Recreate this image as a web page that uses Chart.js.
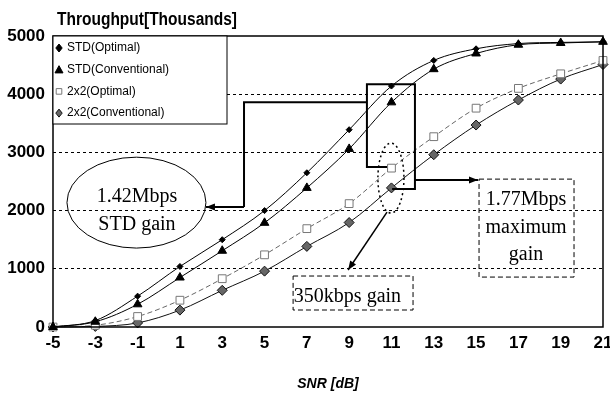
<!DOCTYPE html>
<html>
<head>
<meta charset="utf-8">
<script src="https://cdn.jsdelivr.net/npm/chart.js@4.4.1/dist/chart.umd.min.js"></script>
<style>
    html, body { margin: 0; padding: 0; background: #fff; }
</style>
</head>
<body>
<canvas id="throughputChart" width="610" height="397"></canvas>
<script>
// SNR values (dB) on the x axis
const snrLabels = ['-5', '-3', '-1', '1', '3', '5', '7', '9', '11', '13', '15', '17', '19', '21'];

// Throughput in thousands
const stdOptimal      = [0, 110, 530, 1040, 1500, 2000, 2650, 3390, 4140, 4580, 4780, 4870, 4890, 4900];
const stdConventional = [0, 90, 390, 850, 1310, 1790, 2390, 3060, 3860, 4430, 4700, 4850, 4880, 4900];
const mimoOptimal     = [0, 30, 180, 460, 830, 1240, 1690, 2120, 2730, 3270, 3760, 4100, 4350, 4580];
const mimoConventional = [0, 10, 70, 290, 630, 960, 1385, 1795, 2390, 2960, 3470, 3900, 4260, 4510];

const yTickValues = [0, 1000, 2000, 3000, 4000, 5000];

const axisFont = { family: '"Liberation Sans", Arial, sans-serif', size: 17, weight: 'bold' };
const noteFont = '20px "Liberation Serif", "Times New Roman", serif';

// turns an SNR in dB into a pixel on the category axis
function snrPixel(scale, snr) {
    return scale.getPixelForValue((snr + 5) / 2);
}

function arrow(ctx, x1, y1, x2, y2) {
    ctx.beginPath();
    ctx.moveTo(x1, y1);
    ctx.lineTo(x2, y2);
    ctx.stroke();
    const a = Math.atan2(y2 - y1, x2 - x1);
    ctx.beginPath();
    ctx.moveTo(x2, y2);
    ctx.lineTo(x2 - 9 * Math.cos(a) + 3.5 * Math.sin(a), y2 - 9 * Math.sin(a) - 3.5 * Math.cos(a));
    ctx.lineTo(x2 - 9 * Math.cos(a) - 3.5 * Math.sin(a), y2 - 9 * Math.sin(a) + 3.5 * Math.cos(a));
    ctx.closePath();
    ctx.fill();
}

function marker(ctx, ds, x, y, r) {
    ctx.save();
    ctx.fillStyle = ds.pointBackgroundColor;
    ctx.strokeStyle = ds.pointBorderColor;
    ctx.lineWidth = 1;
    ctx.beginPath();
    if (ds.pointStyle === 'triangle') {
        ctx.moveTo(x, y - r);
        ctx.lineTo(x + r, y + r * 0.8);
        ctx.lineTo(x - r, y + r * 0.8);
    } else if (ds.pointStyle === 'rect') {
        ctx.rect(x - r * 0.7, y - r * 0.7, r * 1.4, r * 1.4);
    } else {
        ctx.moveTo(x, y - r);
        ctx.lineTo(x + r * 0.8, y);
        ctx.lineTo(x, y + r);
        ctx.lineTo(x - r * 0.8, y);
    }
    ctx.closePath();
    ctx.fill();
    ctx.stroke();
    ctx.restore();
}

const decorations = {
    id: 'decorations',
    afterDraw(chart) {
        const ctx = chart.ctx;
        const area = chart.chartArea;
        const xs = chart.scales.x, ys = chart.scales.y;
        const px = snr => snrPixel(xs, snr);
        const py = v => ys.getPixelForValue(v);

        ctx.save();
        // plot frame
        ctx.strokeStyle = '#000';
        ctx.lineWidth = 1.5;
        ctx.strokeRect(area.left, area.top, area.right - area.left, area.bottom - area.top);

        // axis title on top
        ctx.fillStyle = '#000';
        ctx.font = 'bold 18px "Liberation Sans", Arial, sans-serif';
        ctx.textBaseline = 'alphabetic';
        ctx.textAlign = 'left';
        ctx.fillText('Throughput[Thousands]', 57, 25, 180);

        // legend box
        const lx = area.left, ly = area.top, lw = 174, lh = 88;
        ctx.fillStyle = '#fff';
        ctx.fillRect(lx, ly, lw, lh);
        ctx.lineWidth = 1;
        ctx.strokeRect(lx, ly, lw, lh);
        ctx.font = '12px "Liberation Sans", Arial, sans-serif';
        ctx.textBaseline = 'middle';
        chart.data.datasets.forEach((ds, i) => {
            const rowY = ly + 12 + i * 21.7;
            marker(ctx, ds, lx + 6, rowY, 4);
            ctx.fillStyle = '#000';
            ctx.fillText(ds.label, lx + 14, rowY);
        });

        // annotations, placed in data units (snr, thousands)
        ctx.strokeStyle = '#000';
        ctx.fillStyle = '#000';
        ctx.lineWidth = 1;
        ctx.font = noteFont;
        ctx.textAlign = 'center';
        ctx.textBaseline = 'alphabetic';

        // STD gain ellipse
        ctx.beginPath();
        ctx.ellipse((px(-4.34) + px(2.23)) / 2, (py(2918) + py(1356)) / 2,
            (px(2.23) - px(-4.34)) / 2, (py(1356) - py(2918)) / 2, 0, 0, Math.PI * 2);
        ctx.stroke();
        ctx.fillText('1.42Mbps', px(-1.03), py(2146));
        ctx.fillText('STD gain', px(-1.03), py(1665));

        // bracket from the box to the ellipse
        ctx.lineWidth = 2;
        ctx.beginPath();
        ctx.moveTo(px(9.84), py(3863));
        ctx.lineTo(px(4.03), py(3863));
        ctx.lineTo(px(4.03), py(2060));
        ctx.stroke();
        arrow(ctx, px(4.03), py(2060), px(2.23), py(2060));

        // solid box around the gap at 11 dB
        ctx.beginPath();
        ctx.moveTo(px(10.79), py(2747));
        ctx.lineTo(px(9.84), py(2747));
        ctx.lineTo(px(9.84), py(4172));
        ctx.lineTo(px(12.11), py(4172));
        ctx.lineTo(px(12.11), py(2369));
        ctx.lineTo(px(11.03), py(2369));
        ctx.stroke();
        arrow(ctx, px(12.11), py(2524), px(15.09), py(2524));

        // max gain dashed box
        ctx.lineWidth = 1;
        ctx.setLineDash([5, 3]);
        ctx.strokeRect(px(15.14), py(2541), px(19.63) - px(15.14), py(858) - py(2541));
        ctx.strokeRect(px(6.35), py(876), px(12.02) - px(6.35), py(292) - py(876));
        ctx.setLineDash([]);
        ctx.fillText('1.77Mbps', px(17.36), py(2094));
        ctx.fillText('maximum', px(17.36), py(1614));
        ctx.fillText('gain', px(17.36), py(1150));

        // dotted ellipse around the 2x2 points
        ctx.setLineDash([2, 3]);
        ctx.lineWidth = 1.5;
        ctx.beginPath();
        ctx.ellipse((px(10.36) + px(11.59)) / 2, (py(3159) + py(1957)) / 2,
            (px(11.59) - px(10.36)) / 2, (py(1957) - py(3159)) / 2, 0, 0, Math.PI * 2);
        ctx.stroke();
        ctx.setLineDash([]);
        ctx.lineWidth = 1.5;
        arrow(ctx, px(10.79), py(1974), px(8.95), py(979));
        ctx.fillText('350kbps gain', px(8.92), py(429));

        ctx.restore();
    }
};

const ctx = document.getElementById('throughputChart').getContext('2d');
const throughputChart = new Chart(ctx, {
    type: 'line',
    data: {
        labels: snrLabels,
        datasets: [{
            label: 'STD(Optimal)',
            data: stdOptimal,
            borderColor: '#000',
            borderWidth: 1,
            pointStyle: 'rectRot',
            pointRadius: 3,
            pointBackgroundColor: '#000',
            pointBorderColor: '#000'
        }, {
            label: 'STD(Conventional)',
            data: stdConventional,
            borderColor: '#000',
            borderWidth: 1,
            pointStyle: 'triangle',
            pointRadius: 5,
            pointBackgroundColor: '#000',
            pointBorderColor: '#000'
        }, {
            label: '2x2(Optimal)',
            data: mimoOptimal,
            borderColor: '#666',
            borderWidth: 1,
            borderDash: [5, 3],
            pointStyle: 'rect',
            pointRadius: 5.5,
            pointBackgroundColor: '#fff',
            pointBorderColor: '#777'
        }, {
            label: '2x2(Conventional)',
            data: mimoConventional,
            borderColor: '#111',
            borderWidth: 1,
            pointStyle: 'rectRot',
            pointRadius: 5,
            pointBackgroundColor: '#666',
            pointBorderColor: '#111'
        }]
    },
    options: {
        responsive: false,
        devicePixelRatio: 1,
        animation: false,
        clip: false,
        cubicInterpolationMode: 'monotone',
        layout: { padding: { top: 36, right: 7, bottom: 0, left: 0 } },
        scales: {
            x: {
                type: 'category',
                offset: false,
                grid: { display: false, drawTicks: false },
                border: { display: false },
                ticks: { color: '#000', font: axisFont, padding: 6, maxRotation: 0, autoSkip: false },
                title: {
                    display: true,
                    text: 'SNR [dB]',
                    color: '#000',
                    font: { family: '"Liberation Sans", Arial, sans-serif', size: 14, weight: 'bold', style: 'italic' },
                    padding: { top: 0, bottom: 4 }
                },
                afterFit(s) {
                    s.height = 70;
                    s.paddingLeft = 0;
                    s.paddingRight = 0;
                }
            },
            y: {
                min: 0,
                max: 5000,
                grid: {
                    drawTicks: false,
                    lineWidth: 1,
                    color: c => (c.tick && (c.tick.value === 0 || c.tick.value === 5000)) ? 'rgba(0,0,0,0)' : '#000'
                },
                border: { display: false, dash: [3, 3] },
                ticks: {
                    color: '#000',
                    font: axisFont,
                    padding: 8,
                    callback: v => String(v)
                },
                afterBuildTicks(s) {
                    s.ticks = yTickValues.map(v => ({ value: v }));
                },
                afterFit(s) {
                    s.width = 53;
                    s.paddingTop = 0;
                    s.paddingBottom = 0;
                }
            }
        },
        plugins: {
            legend: { display: false },
            tooltip: { enabled: false }
        }
    },
    plugins: [decorations]
});
</script>
</body>
</html>
